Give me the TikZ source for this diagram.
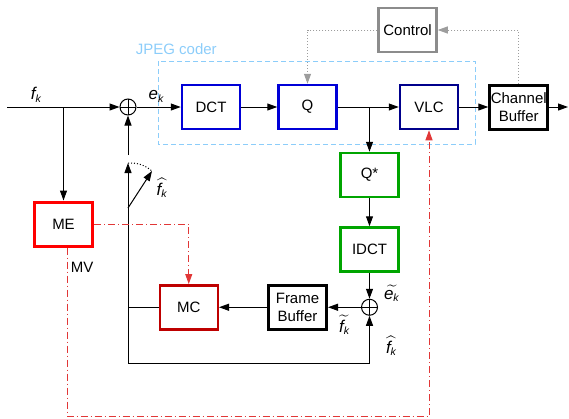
\documentclass[tikz,border=0pt]{standalone}
\usepackage{amsmath}
\usepackage{fontspec}
\setmainfont{Liberation Sans}
\usepackage{xcolor}
\usepackage{tikz}
\usetikzlibrary{positioning,arrows.meta}
\definecolor{coderblue}{RGB}{0,0,215}
\definecolor{vlcblue}{RGB}{0,0,140}
\definecolor{recongreen}{RGB}{0,165,0}
\definecolor{motionred}{RGB}{255,0,0}
\definecolor{mcred}{RGB}{190,0,0}
\definecolor{mvred}{RGB}{225,55,55}
\definecolor{skyframe}{RGB}{140,205,250}
\definecolor{ctrlgray}{RGB}{140,140,140}
\newcommand{\subk}{\text{\fontsize{10.5}{11}\selectfont\textit{k}}}
\newcommand{\fk}{\textit{f}_{\subk}}
\newcommand{\ek}{\textit{e}_{\subk}}

\begin{document}
\begin{tikzpicture}[
    x=1pt, y=-1pt,
    font=\fontsize{15}{18}\selectfont,
    line width=1pt,
    box/.style={draw, line width=2.5pt, align=center, minimum width=58pt, minimum height=44pt, inner sep=0pt, fill=white},
    coder/.style={box, draw=coderblue},
    vlcbox/.style={box, draw=vlcblue},
    recon/.style={box, draw=recongreen},
    mebox/.style={box, draw=motionred, line width=3pt},
    mcbox/.style={box, draw=mcred},
    plainbox/.style={box, draw=black, line width=3pt},
    ctrlbox/.style={box, draw=ctrlgray},
    sumnode/.style={circle, draw, minimum size=16pt, inner sep=0pt,
        path picture={\draw (path picture bounding box.north) -- (path picture bounding box.south)
                            (path picture bounding box.west) -- (path picture bounding box.east);}},
    lbl/.style={font=\fontsize{17}{20}\selectfont, inner sep=1pt},
    arr/.style={-{Triangle[length=10pt, width=7pt]}},
    ctrlline/.style={arr, ctrlgray!85, dotted},
    mvline/.style={arr, mvred, dash pattern=on 7pt off 3pt on 1pt off 3pt},
    coderframe/.style={skyframe, dash pattern=on 5pt off 3pt}
]
\useasboundingbox (0,0) rectangle (569,418);

\draw[coderframe] (158,61) rectangle (475,144);
\node[anchor=base west, text=skyframe] (jpeglbl) at (132,54) {JPEG coder};

\node[coder] (dct) at (211,107) {DCT};
\node[coder, right=36pt of dct] (q) {Q};
\node[vlcbox, right=61pt of q] (vlc) {VLC};
\node[plainbox, right=29pt of vlc] (chbuf) {Channel\\Buffer};
\node[ctrlbox] (ctrl) at (407.5,30) {Control};

\node[recon] (qstar) at (369.5,175) {Q*};
\node[recon, below=28pt of qstar] (idct) {IDCT};
\node[sumnode, below=26pt of idct] (sum2) {};
\node[plainbox, left=33pt of sum2] (fb) {Frame\\Buffer};
\node[mcbox, left=48pt of fb] (mc) {MC};

\node[mebox] (me) at (63.5,224) {ME};
\node[sumnode] (sum1) at (128,107) {};

\coordinate (in) at (7,107);
\coordinate (br) at (63.5,107);
\coordinate (out) at (568,107);
\coordinate (qbr) at (qstar |- q);
\coordinate (fd) at (128,155);
\coordinate (sw) at (128,163);
\coordinate (swbase) at (128,208);
\coordinate (swtip) at (152,171);
\coordinate (lp) at (128,363);
\coordinate (mvc) at (67,416);

\draw[arr] (in) -- node[lbl, pos=0.26, above=3pt]{$\fk$} (sum1.west);
\draw[arr] (br) -- (me.north);
\draw[arr] (sum1.east) -- node[lbl, pos=0.45, above=3pt]{$\ek$} (dct.west);
\draw[arr] (dct) -- (q);
\draw[arr] (q) -- (vlc);
\draw[arr] (vlc) -- (chbuf);
\draw[arr] (chbuf.east) -- (out);
\draw[arr] (qbr) -- (qstar.north);
\draw[arr] (qstar) -- (idct);
\draw[arr] (idct) -- node[lbl, pos=0.8, right=13pt]{$\widetilde{\ek}$} (sum2);
\draw[arr] (sum2) -- node[lbl, pos=0.5, below=6pt]{$\widetilde{\fk}$} (fb);
\draw[arr] (fb) -- (mc);
\draw (mc.west) -- (mc.west -| lp);
\draw[arr] (lp) -| node[lbl, pos=0.68, right=15pt]{$\widehat{\fk}$} (sum2.south);
\draw[arr] (lp) -- (sw);
\draw[arr] (swbase) -- (swtip);
\draw[dotted] (sw) to[bend left=20] (swtip);
\node[lbl] (fhatsw) at (162,188) {$\widehat{\fk}$};
\draw[arr] (fd) -- (sum1.south);

\draw[mvline] (me.east) -| (mc.north);
\draw[mvline] ([xshift=3.5pt]me.south) -- node[pos=0.12, right, text=black]{MV} (mvc) -| (vlc.south);

\draw[ctrlline] (ctrl.west) -| (q.north);
\draw[ctrlline] (chbuf.north) |- (ctrl.east);
\end{tikzpicture}
\end{document}
